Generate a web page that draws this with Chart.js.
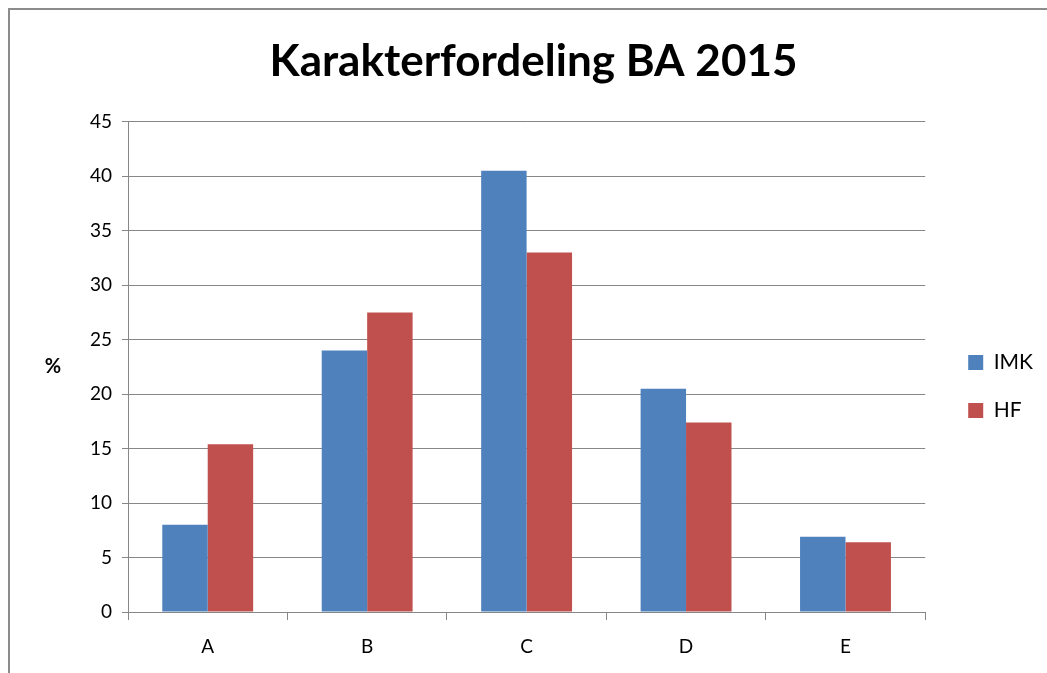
<!DOCTYPE html>
<html>
<head>
    <script src="https://cdn.jsdelivr.net/npm/chart.js"></script>
    <style>
        html, body { margin: 0; padding: 0; background: #fff; }
        .chart-container { position: relative; width: 1047px; height: 673px; }
    </style>
</head>
<body>
    <div class="chart-container">
        <canvas id="gradeChart"></canvas>
    </div>
    <script type="text/javascript">
        var categories = ['A', 'B', 'C', 'D', 'E'];
        var imkValues = [8.0, 24.0, 40.5, 20.5, 6.9];
        var hfValues = [15.4, 27.5, 33.0, 17.4, 6.4];
        var chartTitle = 'Karakterfordeling BA 2015';
        var yAxisLabel = '%';

        var gridColor = '#878787';
        var fontFamily = 'Lato, "Open Sans", sans-serif';

        // frame round the whole chart, "%" label, and nudge title/legend to where Excel put them
        var decorPlugin = {
            id: 'decor',
            afterLayout: function (chart) {
                var lg = chart.legend;
                if (lg) {
                    lg.top += 50;
                    lg.bottom += 50;
                    lg.left += 16;
                    lg.right += 16;
                }
                var tb = chart.titleBlock;
                if (tb) {
                    tb.left += 10;
                    tb.right += 10;
                }
            },
            beforeDraw: function (chart) {
                var ctx = chart.ctx;
                ctx.save();
                ctx.fillStyle = '#fff';
                ctx.fillRect(0, 0, chart.width, chart.height);
                ctx.strokeStyle = '#8c8c8c';
                ctx.lineWidth = 2;
                ctx.strokeRect(9, 9, chart.width + 20, chart.height + 20);
                ctx.restore();
            },
            afterDraw: function (chart) {
                var ctx = chart.ctx;
                var area = chart.chartArea;
                ctx.save();
                ctx.font = 'bold 20px ' + fontFamily;
                ctx.fillStyle = '#000';
                ctx.textAlign = 'center';
                ctx.textBaseline = 'middle';
                ctx.fillText(yAxisLabel, 53, (area.top + area.bottom) / 2);
                ctx.restore();
            }
        };

        var ctx = document.getElementById('gradeChart').getContext('2d');
        var chart = new Chart(ctx, {
            type: 'bar',
            data: {
                labels: categories,
                datasets: [{
                    label: 'IMK',
                    data: imkValues,
                    backgroundColor: '#4f81bd',
                    borderWidth: 0
                }, {
                    label: 'HF',
                    data: hfValues,
                    backgroundColor: '#c0504d',
                    borderWidth: 0
                }]
            },
            options: {
                responsive: true,
                maintainAspectRatio: false,
                animation: false,
                layout: {
                    padding: { left: 20, right: 20, top: 0, bottom: 0 }
                },
                datasets: {
                    bar: { categoryPercentage: 0.57, barPercentage: 1.0 }
                },
                scales: {
                    x: {
                        grid: {
                            display: true,
                            offset: true,
                            drawOnChartArea: false,
                            color: gridColor,
                            tickLength: 8
                        },
                        border: { color: gridColor, width: 1 },
                        ticks: {
                            color: '#000',
                            font: { family: fontFamily, size: 19 },
                            padding: 15
                        },
                        afterFit: function (scale) { scale.height = 61; }
                    },
                    y: {
                        min: 0,
                        max: 45,
                        ticks: {
                            stepSize: 5,
                            color: '#000',
                            font: { family: fontFamily, size: 19 },
                            padding: 10
                        },
                        grid: { color: gridColor, tickLength: 6 },
                        border: { color: gridColor, width: 1 },
                        afterFit: function (scale) { scale.width = 108; }
                    }
                },
                plugins: {
                    title: {
                        display: true,
                        text: chartTitle,
                        color: '#000',
                        font: { family: fontFamily, size: 44, weight: 'bold' },
                        padding: { top: 35, bottom: 34 }
                    },
                    legend: {
                        display: true,
                        position: 'right',
                        onClick: null,
                        labels: {
                            boxWidth: 15,
                            boxHeight: 15,
                            padding: 27,
                            color: '#000',
                            font: { family: fontFamily, size: 21 }
                        }
                    },
                    tooltip: { enabled: false }
                }
            },
            plugins: [decorPlugin]
        });
    </script>
</body>
</html>
